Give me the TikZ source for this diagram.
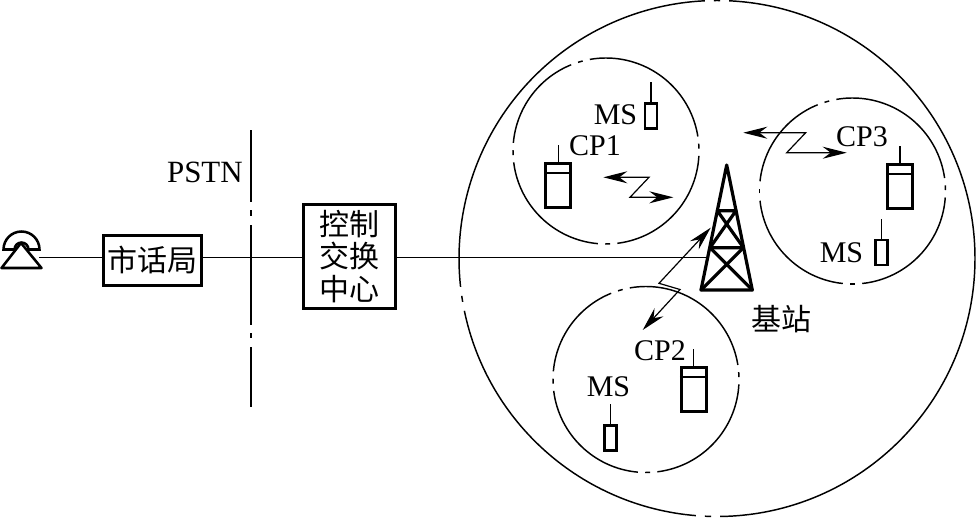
\documentclass[tikz,border=0pt]{standalone}
\usepackage{fontspec}
\setmainfont{Liberation Serif}
\newfontfamily\cjk{Noto Sans CJK SC}
\usepackage{tikz}
\usetikzlibrary{arrows.meta, calc, positioning}
\newcommand{\cellring}[4]{%
  \foreach \p/\q in {#4} {
    \draw[ring] ([shift={(\p+#3:#2)}]#1) arc[start angle=\p+#3, end angle=\q-#3, radius=#2];
    \draw[ring] ([shift={(\p-#3/4:#2)}]#1) arc[start angle=\p-#3/4, end angle=\p+#3/4, radius=#2];
  }}

\begin{document}
\begin{tikzpicture}[x=0.75pt, y=-0.75pt,
    box/.style={draw, line width=2.2pt, inner sep=0pt, align=center, font=\fontsize{22.5}{24.4}\selectfont\cjk},
    lab/.style={inner sep=0pt, font=\fontsize{22.5}{24}\selectfont},
    wire/.style={line width=0.95pt},
    ring/.style={line width=1.1pt},
    arrow/.style={{Stealth[length=18pt, width=9pt, inset=6pt]}-{Stealth[length=18pt, width=9pt, inset=6pt]}, line width=0.9pt},
    phone/.style={draw, line width=2.2pt, inner sep=0pt, minimum width=18.75pt, minimum height=33pt},
    handset/.style={draw, line width=1.9pt, inner sep=0pt, minimum width=9pt, minimum height=19pt},
    mast/.style={line width=2.4pt, line cap=round, line join=round}
]
\useasboundingbox (0,0) rectangle (976,518);

% left side
\coordinate (sub) at (39,257.5);
\node[box, minimum width=74pt, minimum height=37.3pt] (office) at (152.5,260.3) {市话局};
\node[box, minimum width=69.5pt, minimum height=78pt] (switch) at (349.5,256.5) {控制\\交换\\中心};
\draw[line width=1.9pt, line join=round] (1.5,268) -- (21,243) -- (41.5,268) -- cycle;
\draw[line width=1.9pt] (3.5,249.5) arc[start angle=180, end angle=360, radius=18] -- (28.5,249.5) arc[start angle=360, end angle=180, radius=7] -- cycle;
\coordinate (pstntop) at (250.5,130);
\coordinate (pstnbot) at (250.5,406.5);
\draw[line width=1.5pt, dash pattern=on 54pt off 6pt on 4.5pt off 6.75pt on 75pt off 6pt on 4pt off 6.75pt on 50pt off 100pt] (pstntop) -- (pstnbot);
\node[lab, anchor=east, font=\fontsize{23.2}{24}\selectfont] (pstn) at (243,172) {PSTN};

% rings
\coordinate (cell) at (717,258.5);
\coordinate (c1) at (606,151);
\coordinate (c2) at (646,379.5);
\coordinate (c3) at (852.5,191);
\cellring{cell}{258}{2.7}{92/171,171/270,270/452}
\cellring{c1}{93}{6}{89/179,179/254,254/357,357/449}
\cellring{c2}{93}{6}{89/179,179/254,254/357,357/449}
\cellring{c3}{93}{6}{90/180,180/254,254/358,358/450}

% tower
\coordinate (apex) at (726.7,165);
\coordinate (footl) at (701,290);
\coordinate (footr) at (752.3,290);
\coordinate (la) at (717.3,210.7);
\coordinate (ra) at (736,210.7);
\coordinate (lb) at (710,247.7);
\coordinate (rb) at (743.5,247.7);
\coordinate (mast) at (708,257.5);
\draw[mast] (footl) -- (apex) -- (footr) -- cycle;
\draw[mast] (la) -- (ra) -- (lb) -- (rb) -- (la);
\draw[mast] (lb) -- (footr) (rb) -- (footl);

\draw[wire] (sub) -- (sub -| office.west) (sub -| office.east) -- (sub -| switch.west) (sub -| switch.east) -- (mast);

% handsets
\foreach \n/\x/\y in {1/558.2/185.3, 2/693.8/389.3, 3/900/186.3} {
  \node[phone] (cp\n) at (\x,\y) {};
  \draw[line width=1.8pt] ([yshift=-8.5pt]cp\n.north west) -- ([yshift=-8.5pt]cp\n.north east);
  \draw[wire] (cp\n.north) -- ++(0,-17);
}
\foreach \n/\x/\y in {1/651/116, 2/610.5/438, 3/881.5/252.5} {
  \node[handset] (ms\n) at (\x,\y) {};
  \draw[wire] (ms\n.north) -- ++(0,-20);
}

\node[lab] (lcp1) at (595,146) {CP1};
\node[lab] (lcp2) at (660,351) {CP2};
\node[lab] (lcp3) at (862,136.5) {CP3};
\node[lab] (lms1) at (615.5,114.5) {MS};
\node[lab] (lms2) at (608.5,386.5) {MS};
\node[lab] (lms3) at (841.5,252.5) {MS};
\node[lab, font=\fontsize{22.5}{24}\selectfont\cjk] (base) at (781,319) {基站};

% radio links
\coordinate (z1a) at (603.3,177.3);
\coordinate (z1b) at (673.3,197.3);
\coordinate (z2a) at (710.7,227.7);
\coordinate (z2b) at (642.7,330);
\coordinate (z3a) at (743.3,132.7);
\coordinate (z3b) at (846.7,152.7);
\draw[arrow] (z1a) -- (649,177.3) -- (630,197.3) -- (z1b);
\draw[arrow] (z2a) -- (659,283.3) -- (680,289.5) -- (z2b);
\draw[arrow] (z3a) -- (805.7,132.7) -- (786.7,152.7) -- (z3b);
\end{tikzpicture}
\end{document}
